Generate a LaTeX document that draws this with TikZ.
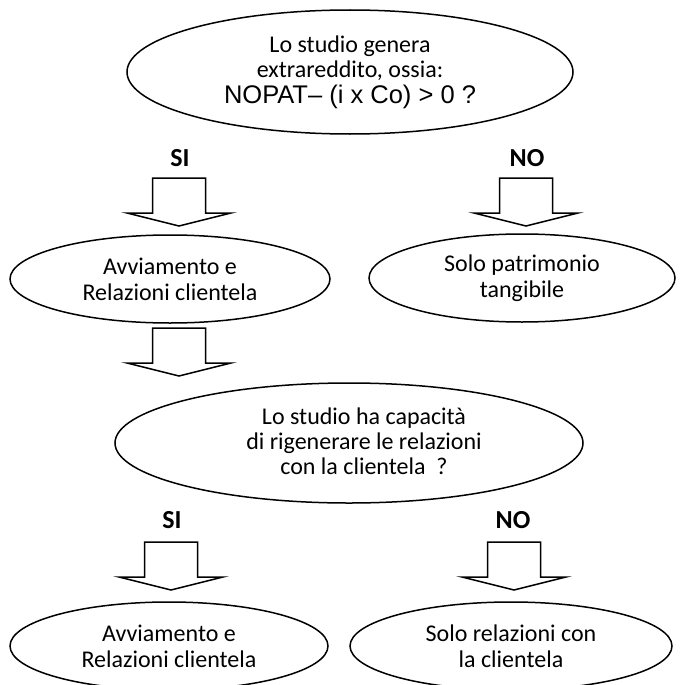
\documentclass[tikz,border=0pt]{standalone}
\usepackage{fontspec}
\setmainfont{Carlito}
\newfontfamily\formulafont{Liberation Sans}
\usetikzlibrary{shapes.geometric}
\tikzset{
  question/.style={ellipse,draw=black,line width=1.5pt,inner sep=0pt,align=center,
    font=\fontsize{24}{25}\selectfont},
  answer/.style={ellipse,draw=black,line width=1.5pt,minimum height=88pt,inner sep=0pt,
    align=center,font=\fontsize{24}{26}\selectfont},
  caption/.style={align=center,font=\fontsize{24}{25}\selectfont},
  choice/.style={font=\fontsize{26}{28}\selectfont\bfseries},
  downarrow/.pic={
    \draw[line width=1.5pt,line join=miter,fill=white]
      (-26.5,0) -- (26.5,0) -- (26.5,35) -- (52,35) -- (0,48) -- (-52,35) -- (-26.5,35) -- cycle;}
}
\begin{document}
\begin{tikzpicture}[x=1pt,y=-1pt]
\useasboundingbox (0,0) rectangle (680,685);
% first question
\node[question,minimum width=446pt,minimum height=124pt] (studio) at (350,72)
  {Lo studio genera\\ extrareddito, ossia:\\[1pt] {\formulafont\fontsize{25.5}{25}\selectfont NOPAT– (i x Co) > 0 ?}};
\node[choice] (si1) at (180,158) {SI};
\node[choice] (no1) at (527,158) {NO};
\pic at (179,178) {downarrow};
\pic at (526,178) {downarrow};
\node[answer,minimum width=320pt] (avv1) at (170,279) {Avviamento e\\ Relazioni clientela};
\node[answer,minimum width=306pt] (patr) at (522,278) {Solo patrimonio\\ tangibile};
% second question
\pic at (179,328) {downarrow};
\node[question,minimum width=468pt,minimum height=120pt] (rigen) at (349,443) {};
\node[caption] (rigentxt) at (364,441) {Lo studio ha capacità\\ di rigenerare le relazioni\\ con la clientela ~?};
\node[choice] (si2) at (172,520) {SI};
\node[choice] (no2) at (513,520) {NO};
\pic at (171,542) {downarrow};
\pic at (514,542) {downarrow};
\node[answer,minimum width=318pt] (avv2) at (169,646) {Avviamento e\\ Relazioni clientela};
\node[answer,minimum width=322pt] (rel) at (511,646) {Solo relazioni con\\ la clientela};
\end{tikzpicture}
\end{document}
